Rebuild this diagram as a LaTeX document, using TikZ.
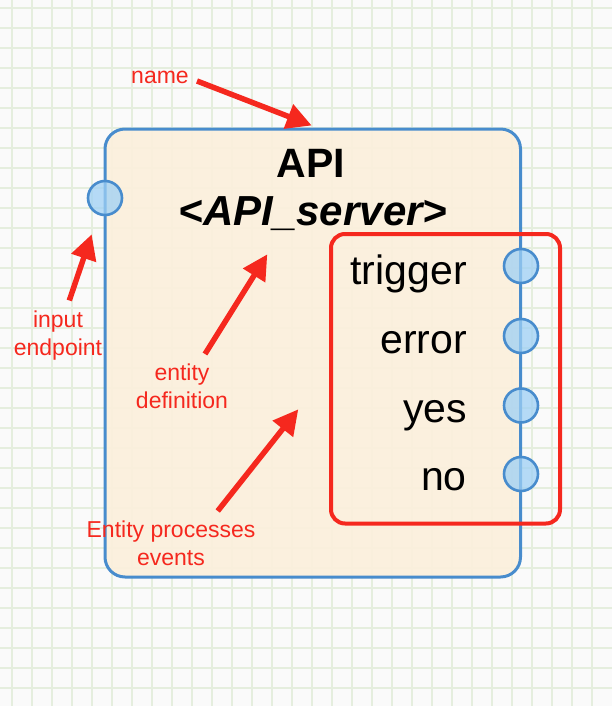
\documentclass[tikz,border=0pt]{standalone}
\usepackage{fontspec}
\setmainfont{Liberation Sans}
\usetikzlibrary{arrows.meta}
\definecolor{bgc}{RGB}{250,250,250}
\definecolor{gridc}{RGB}{229,238,222}
\definecolor{boxfill}{RGB}{252,240,220}
\definecolor{boxline}{RGB}{72,140,205}
\definecolor{epfill}{RGB}{158,208,245}
\definecolor{annot}{RGB}{245,40,30}
\begin{document}
\begin{tikzpicture}[x=1pt,y=-1pt,
  gridline/.style={draw=gridc,line width=1.8pt},
  entitybox/.style={draw=boxline,line width=3pt,fill=boxfill,fill opacity=0.9,rounded corners=20pt,inner sep=0pt},
  groupbox/.style={draw=annot,line width=4pt,rounded corners=14pt,inner sep=0pt},
  endpoint/.style={circle,draw=boxline,line width=2.6pt,fill=epfill,fill opacity=0.75,minimum size=34pt,inner sep=0pt},
  bigtext/.style={font=\fontsize{41}{48}\selectfont,text=black,inner sep=0pt},
  annlabel/.style={text=annot,font=\fontsize{23}{28}\selectfont,inner sep=0pt,align=center},
  annarrow/.style={draw=annot,line width=5.5pt,-{Triangle[length=25pt,width=25pt]}}
]
\useasboundingbox (0,0) rectangle (612,706);
\fill[bgc] (0,0) rectangle (612,706);
% grid
\foreach \i in {0,...,29} {\draw[gridline] (12+20*\i,0) -- (12+20*\i,706);}
\foreach \j in {0,...,34} {\draw[gridline] (0,8.3+20*\j) -- (612,8.3+20*\j);}

% entity box
\node[entitybox,minimum width=415.5pt,minimum height=448pt] (entity) at (312.75,353) {};

% group of output events
\node[groupbox,minimum width=229pt,minimum height=289.5pt] (procs) at (445.5,378.75) {};

% endpoints
\node[endpoint] (inport) at (105,198) {};
\node[endpoint] (ptrigger) at (521,266) {};
\node[endpoint] (perror) at (521,336) {};
\node[endpoint] (pyes) at (521,405.5) {};
\node[endpoint] (pno) at (521,474) {};

% texts
\node[bigtext,font=\fontsize{41}{48}\selectfont\bfseries,anchor=base] (title) at (311,177) {API};
\node[bigtext,font=\fontsize{42}{48}\selectfont\bfseries\itshape,anchor=base] (def) at (313,225) {<API\_server>};
\node[bigtext,anchor=base east] (ltrigger) at (467,284) {trigger};
\node[bigtext,anchor=base east] (lerror) at (467,353.3) {error};
\node[bigtext,anchor=base east] (lyes) at (467,422.5) {yes};
\node[bigtext,anchor=base east] (lno) at (467,490) {no};

% annotation labels (base = baseline of last line)
\node[annlabel,anchor=base] (aname) at (160,83.3) {name};
\node[annlabel,anchor=base] (ainput) at (58,355) {input\\endpoint};
\node[annlabel,anchor=base] (adef) at (182,408.3) {entity\\definition};
\node[annlabel,anchor=base] (aproc) at (171,565) {Entity processes\\events};

% arrow coordinates
\coordinate (nameA) at (197,81);
\coordinate (nameB) at (311.7,125.5);
\coordinate (inA) at (69.3,300.5);
\coordinate (inB) at (91.7,234.3);
\coordinate (defA) at (205,354);
\coordinate (defB) at (267.3,254.3);
\coordinate (procA) at (217.7,511);
\coordinate (procB) at (298.3,409.3);

\draw[annarrow] (nameA) -- (nameB);
\draw[annarrow] (inA) -- (inB);
\draw[annarrow] (defA) -- (defB);
\draw[annarrow] (procA) -- (procB);
\end{tikzpicture}
\end{document}
